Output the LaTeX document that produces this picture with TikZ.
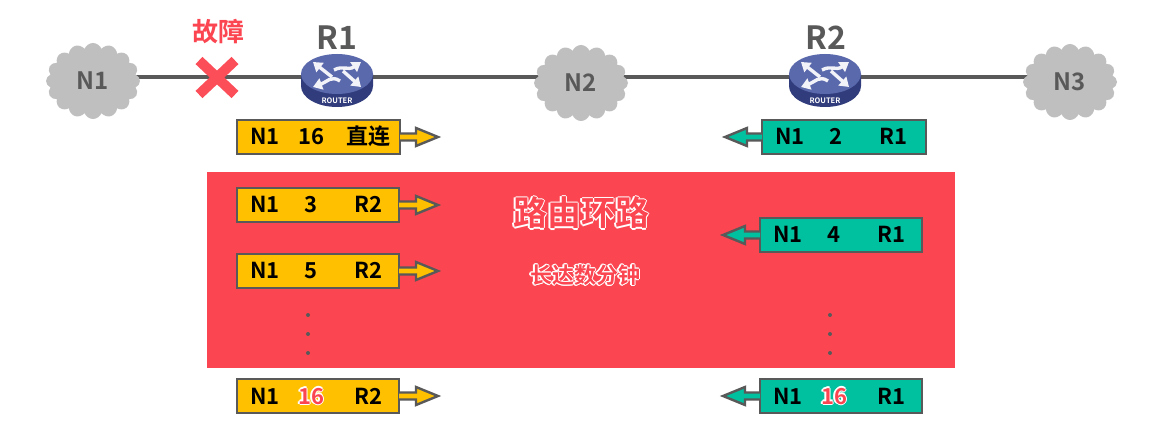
\documentclass[tikz,border=0pt]{standalone}
\usepackage{fontspec}
\setmainfont{Noto Sans CJK SC}[BoldFont={Noto Sans CJK SC Bold}]
\newfontfamily\cjkb{Noto Sans CJK SC Bold}
\usetikzlibrary{shapes.symbols,arrows.meta,backgrounds}
\definecolor{lineg}{HTML}{595959}
\definecolor{cloudg}{HTML}{BFBFBF}
\definecolor{alarm}{HTML}{FB4550}
\definecolor{amber}{HTML}{FFC000}
\definecolor{teal}{HTML}{00C19F}
\definecolor{routerT}{HTML}{5A68AC}
\definecolor{routerS}{HTML}{303C7C}
\newcommand\hcopy[3]{\rlap{\kern#1\raisebox{#2}{\color{white}#3}}}
\newcommand\halo[3][1.1pt]{\leavevmode\cjkb\hcopy{#1}{0pt}{#3}\hcopy{-#1}{0pt}{#3}\hcopy{0pt}{#1}{#3}\hcopy{0pt}{-#1}{#3}\hcopy{0.7\dimexpr#1\relax}{0.7\dimexpr#1\relax}{#3}\hcopy{-0.7\dimexpr#1\relax}{0.7\dimexpr#1\relax}{#3}\hcopy{0.7\dimexpr#1\relax}{-0.7\dimexpr#1\relax}{#3}\hcopy{-0.7\dimexpr#1\relax}{-0.7\dimexpr#1\relax}{#3}{\color{#2}#3}}
\tikzset{
  every node/.style={inner sep=0pt,outer sep=0pt},
  netcloud/.style={cloud,cloud puffs=16,cloud puff arc=140,cloud ignores aspect,fill=cloudg,minimum width=94,minimum height=76,text=lineg,font=\cjkb\fontsize{24}{24}\selectfont},
  link/.style={draw=lineg,line width=3.5},
  tablebox/.style={draw=lineg,line width=2.8,rectangle,minimum height=34},
  fatarrow/.style={draw=lineg,line width=2.4,line join=miter},
  cell/.style={anchor=base,font=\cjkb\fontsize{22}{22}\selectfont,text=black},
  routername/.style={font=\cjkb\fontsize{32}{32}\selectfont,text=lineg},
  dotmark/.style={circle,fill=lineg,minimum size=4},
  cross/.style={line width=10,draw=alarm!95!white},
}
\newcommand\rightrow[6]{%
  \node[tablebox,fill=amber,minimum width=#3-#2] (#1) at ({(#2+#3)/2},#4) {};
  \coordinate (#1tip) at (438,#4);
  \draw[fatarrow,fill=amber] (#1.east) ++(0,-3.5) -- (416,#4-3.5) -- (416,#4-9) -- (#1tip) -- (416,#4+9) -- (416,#4+3.5) -- (#1.east |- 0,#4+3.5);
  \node[cell] at (265,#4+8) {N1};
  \node[cell] at (311,#4+8) {#5};
  \node[cell] at (368,#4+8) {#6};
}
\newcommand\leftrow[6]{%
  \node[tablebox,fill=teal,minimum width=#3-#2] (#1) at ({(#2+#3)/2},#4) {};
  \coordinate (#1tip) at (#2-37,#4);
  \draw[fatarrow,fill=teal] (#1.west) ++(0,-3.5) -- (#2-15,#4-3.5) -- (#2-15,#4-9) -- (#1tip) -- (#2-15,#4+9) -- (#2-15,#4+3.5) -- (#1.west |- 0,#4+3.5);
  \node[cell] at (#2+28,#4+8) {N1};
  \node[cell] at (#2+74,#4+8) {#5};
  \node[cell] at (#2+131,#4+8) {#6};
}
\newcommand\router[2]{%
  \node[inner sep=0pt,minimum size=1pt] (#1) at (#2,77) {};
  \begin{scope}[shift={(#2,74)}]
    \fill[routerS] (-36,0) -- (-36,12) arc[start angle=180,end angle=0,x radius=36,y radius=21] -- (36,0) -- cycle;
    \fill[routerT] (0,0) ellipse[x radius=36,y radius=20];
    \begin{scope}[white!92!routerT,line width=3.4,-{Triangle[length=9,width=11.5]}]
      \draw (-5,3) -- (-24,-12);
      \draw (-3,-4) .. controls (6,-9) and (11,-3) .. (24,-12);
      \draw (3,7) .. controls (-6,1) and (-10,8) .. (-24,13);
      \draw (6,-3) -- (24,13);
    \end{scope}
    \node[text=white,font=\cjkb\fontsize{7.5}{7.5}\selectfont] at (0,27) {ROUTER};
  \end{scope}
}
\begin{document}
\begin{tikzpicture}[x=1pt,y=-1pt]
\useasboundingbox (0,0) rectangle (1162,438);
\node[netcloud] (n1) at (93,81) {N1};
\node[netcloud] (n2) at (581,83) {N2};
\node[netcloud] (n3) at (1070,82) {N3};
\router{r1}{337}
\router{r2}{825}
\begin{pgfonlayer}{background}
  \fill[white] (0,0) rectangle (1162,438);
  \draw[link] (n1.center |- r1.center) -- (r1.center) -- (r2.center) -- (n3.center |- r2.center);
  \fill[alarm] (207,172) rectangle (955,368);
\end{pgfonlayer}
\node[routername] (r1name) at (337,38) {R1};
\node[routername] (r2name) at (826,38) {R2};
\node (fault) at (218,32) {\fontsize{26}{26}\selectfont\halo[1pt]{alarm}{故障}};
\coordinate (xc) at (217,77.5);
\draw[cross] ([shift={(-18,-17)}]xc) -- ([shift={(18,17)}]xc);
\draw[cross] ([shift={(18,-17)}]xc) -- ([shift={(-18,17)}]xc);
\rightrow{a0}{237}{400}{137}{16}{直连}
\rightrow{a1}{237}{399}{205}{3}{R2}
\rightrow{a2}{237}{399}{271}{5}{R2}
\rightrow{a3}{237}{399}{396}{\halo[1.1pt]{alarm}{16}}{R2}
\leftrow{b0}{762}{926}{137}{2}{R1}
\leftrow{b1}{760}{922}{235}{4}{R1}
\leftrow{b3}{760}{922}{396}{\halo[1.1pt]{alarm}{16}}{R1}
\foreach \yy in {315,334,353}{
  \node[dotmark] at (308,\yy) {};
  \node[dotmark] at (830,\yy) {};
}
\node (loop) at (581,213) {\fontsize{34}{34}\selectfont\halo[1.3pt]{alarm}{路由环路}};
\node (mins) at (585,275) {\fontsize{22}{22}\selectfont\halo[1.1pt]{alarm}{长达数分钟}};
\end{tikzpicture}
\end{document}
